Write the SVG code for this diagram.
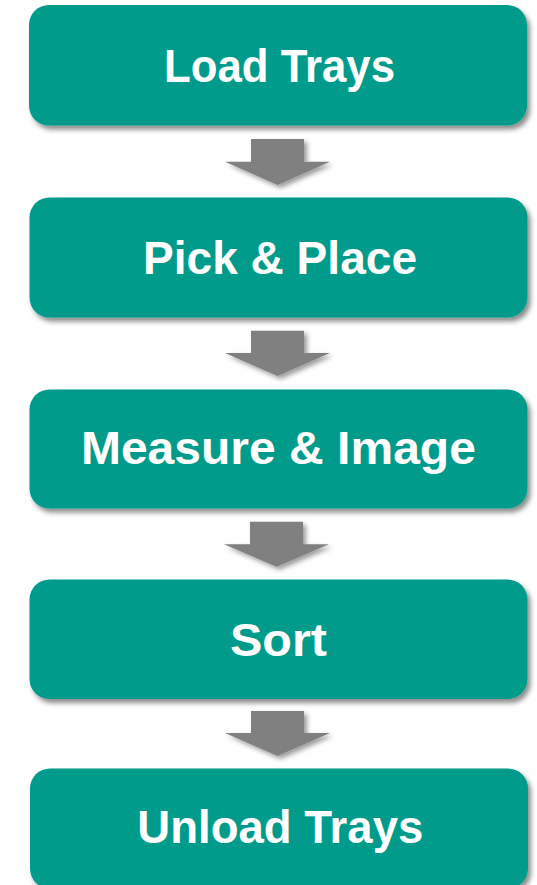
<svg xmlns="http://www.w3.org/2000/svg" width="537" height="885" viewBox="0 0 537 885">
<defs>
<filter id="sh" x="-10%" y="-20%" width="120%" height="150%">
<feDropShadow dx="3" dy="4" stdDeviation="2.5" flood-color="#000" flood-opacity="0.45"/>
</filter>
<filter id="ash" x="-20%" y="-20%" width="150%" height="160%">
<feDropShadow dx="3" dy="3" stdDeviation="2.5" flood-color="#000" flood-opacity="0.4"/>
</filter>
</defs>
<style>
.box{fill:#009B8A;filter:url(#sh)}
.lbl{fill:#fff;font-family:"Liberation Sans",Arial,sans-serif;font-weight:bold;font-size:46px;text-anchor:middle}
.arr{fill:#808080;filter:url(#ash)}
</style>
<rect width="537" height="885" fill="#fff"/>
<g id="connectors">
<polygon class="arr" points="251,139 304,139 304,161.7 330,161.7 277.5,185 225,161.7 251,161.7"/>
<polygon class="arr" points="251,330.7 304,330.7 304,353 330,353 277.5,376 225,353 251,353"/>
<polygon class="arr" points="250,521.7 303,521.7 303,544.3 329,544.3 276.5,566.7 224,544.3 250,544.3"/>
<polygon class="arr" points="251,711 304,711 304,733 330,733 277.5,756 225,733 251,733"/>
</g>
<g id="load-trays">
<rect class="box" x="29" y="5" width="498" height="120.5" rx="20"/>
<text class="lbl" x="279.5" y="81.7" font-size="49" textLength="231" lengthAdjust="spacingAndGlyphs">Load Trays</text>
</g>
<g id="pick-place">
<rect class="box" x="29.5" y="197.5" width="498" height="120" rx="20"/>
<text class="lbl" x="280" y="273.5" textLength="274" lengthAdjust="spacingAndGlyphs">Pick &amp; Place</text>
</g>
<g id="measure-image">
<rect class="box" x="29.5" y="389.5" width="498" height="119" rx="20"/>
<text class="lbl" x="278.4" y="464.3" textLength="395" lengthAdjust="spacingAndGlyphs">Measure &amp; Image</text>
</g>
<g id="sort">
<rect class="box" x="29.5" y="579.5" width="498" height="119.5" rx="20"/>
<text class="lbl" x="278.5" y="655.5" textLength="97" lengthAdjust="spacingAndGlyphs">Sort</text>
</g>
<g id="unload-trays">
<rect class="box" x="30" y="768.5" width="498" height="120" rx="20"/>
<text class="lbl" x="280.3" y="843.3" textLength="286" lengthAdjust="spacingAndGlyphs">Unload Trays</text>
</g>
</svg>
